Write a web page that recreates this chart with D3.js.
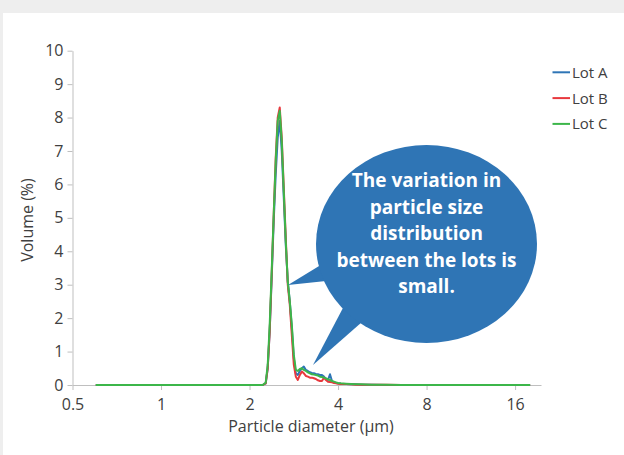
<!DOCTYPE html>
<html><head><meta charset="utf-8">
<script src="https://cdn.jsdelivr.net/npm/d3@7"></script>
<style>
html,body{margin:0;padding:0;background:#eeeeee;}
svg{display:block;}
text{font-family:"Open Sans",sans-serif;}
</style></head>
<body>
<script>
// Data
const diameters = [0.6,1.0,1.5,2.0,2.217,2.270,2.306,2.342,2.379,2.417,2.455,2.494,2.534,2.574,2.615,2.656,2.698,2.741,2.785,2.829,2.874,2.919,2.966,3.013,3.060,3.109,3.158,3.208,3.259,3.311,3.363,3.417,3.471,3.526,3.582,3.638,3.696,3.755,3.814,3.875,3.936,3.998,4.093,4.258,4.429,4.607,4.79,5.19,5.83,6.56,8,12,18];
const lotA = [0,0,0,0,0,0.05,0.5,1.6,3.2,4.9,6.3,7.4,7.9,7.0,5.6,4.2,3.1,2.5,1.7,0.8,0.35,0.3,0.42,0.5,0.55,0.45,0.42,0.38,0.36,0.35,0.33,0.32,0.3,0.3,0.25,0.18,0.15,0.32,0.12,0.08,0.06,0.05,0.04,0.03,0.02,0.02,0.01,0.01,0,0,0,0,0];
const lotB = [0,0,0,0,0,0.05,0.5,1.6,3.3,5.1,6.8,8.0,8.3,7.4,5.9,4.4,3.0,2.4,1.5,0.6,0.25,0.15,0.3,0.4,0.35,0.27,0.25,0.22,0.22,0.2,0.18,0.14,0.12,0.12,0.22,0.15,0.1,0.09,0.08,0.06,0.05,0.04,0.03,0.03,0.02,0.01,0.01,0.01,0.01,0,0,0,0];
const lotC = [0,0,0,0,0,0.07,0.6,1.8,3.4,5.1,6.7,7.9,8.2,7.3,5.8,4.3,3.1,2.5,1.8,0.9,0.45,0.42,0.48,0.5,0.45,0.42,0.38,0.35,0.32,0.31,0.3,0.28,0.25,0.24,0.22,0.2,0.17,0.15,0.12,0.1,0.08,0.06,0.05,0.04,0.03,0.02,0.02,0.01,0.01,0,0,0,0];
const seriesNames = ["Lot A","Lot B","Lot C"];
const seriesColors = ["#2e75b6","#e8383d","#3cb64a"];
const xTicks = [0.5,1,2,4,8,16];
const yTicks = [0,1,2,3,4,5,6,7,8,9,10];
const calloutLines = ["The variation in","particle size","distribution","between the lots is","small."];

const W = 624, H = 455;
const svg = d3.select("body").append("svg").attr("width",W).attr("height",H);
svg.append("rect").attr("x",0).attr("y",0).attr("width",W).attr("height",H).attr("fill","#eeeeee");
svg.append("rect").attr("x",3).attr("y",13).attr("width",W-3).attr("height",H-13).attr("fill","#ffffff");

const x = d3.scaleLog().base(2).domain([0.5,19.6]).range([72.5,541]);
const y = d3.scaleLinear().domain([0,10]).range([385,50.7]);

// axes
const axisColor = "#bfbfbf", textColor = "#404040";
const xAxis = svg.append("g").attr("transform","translate(0,385)")
  .call(d3.axisBottom(x).tickValues(xTicks).tickSize(5).tickSizeOuter(0).tickFormat(d=>String(d)));
const yAxis = svg.append("g").attr("transform","translate(72.5,0)")
  .call(d3.axisLeft(y).tickValues(yTicks).tickSize(5).tickSizeOuter(0).tickFormat(d=>String(d)));
[xAxis,yAxis].forEach(g=>{
  g.selectAll("path.domain").attr("stroke",axisColor).attr("stroke-width",1);
  g.selectAll(".tick line").attr("stroke",axisColor);
  g.selectAll(".tick text").attr("fill",textColor).style("font-size","16px").style("font-family","'Open Sans',sans-serif");
});
xAxis.selectAll(".tick text").attr("dy","0").attr("y",25);
yAxis.selectAll(".tick text").attr("x",-9);

svg.append("text").attr("x",311).attr("y",432).attr("text-anchor","middle")
  .attr("fill",textColor).style("font-size","16px").text("Particle diameter (µm)");
svg.append("text").attr("transform","translate(33,220) rotate(-90)").attr("text-anchor","middle")
  .attr("fill",textColor).style("font-size","16px").text("Volume (%)");

// lines
const allSeries = [lotA,lotB,lotC];
const line = d3.line().x((d,i)=>x(diameters[i])).y(d=>y(d));
allSeries.forEach((s,k)=>{
  svg.append("path").datum(s).attr("d",line).attr("fill","none")
    .attr("stroke",seriesColors[k]).attr("stroke-width",2).attr("stroke-linejoin","round");
});

// legend
seriesNames.forEach((n,k)=>{
  const ly = 72.3 + k*25.8;
  svg.append("line").attr("x1",552.5).attr("x2",570).attr("y1",ly).attr("y2",ly)
    .attr("stroke",seriesColors[k]).attr("stroke-width",2);
  svg.append("text").attr("x",572).attr("y",ly+5.5).attr("fill",textColor)
    .style("font-size","15px").text(n);
});

// callout
const bubble = "#2f75b5";
const cg = svg.append("g");
cg.append("path").attr("d","M288,285 L324,263 L326,281 Z").attr("fill",bubble);
cg.append("path").attr("d","M313,365 L344,306 L362,322 Z").attr("fill",bubble);
cg.append("ellipse").attr("cx",426.5).attr("cy",244).attr("rx",110.5).attr("ry",99).attr("fill",bubble);
calloutLines.forEach((t,i)=>{
  cg.append("text").attr("x",426.5).attr("y",187+i*26.6).attr("text-anchor","middle")
    .attr("fill","#ffffff").style("font-size","19px").style("font-weight","bold").text(t);
});
</script>
</body></html>
